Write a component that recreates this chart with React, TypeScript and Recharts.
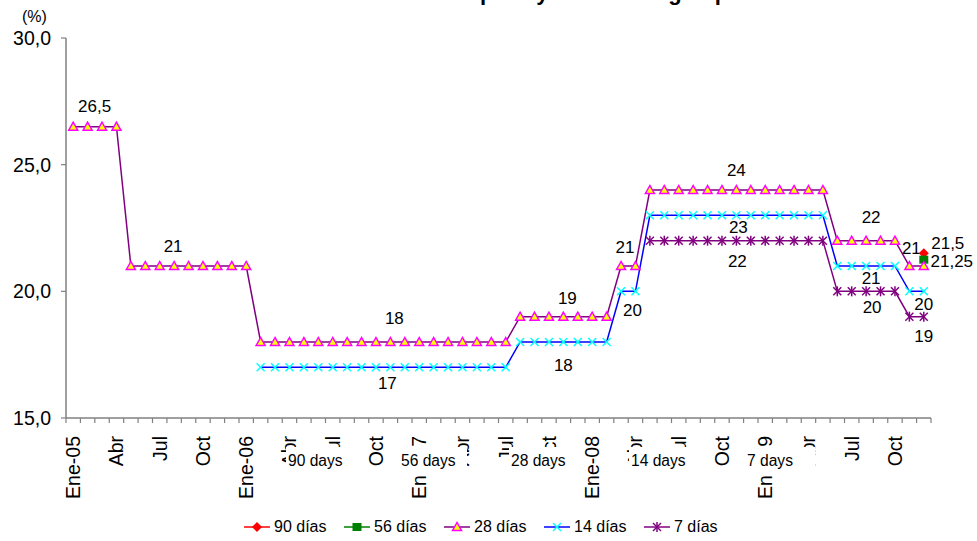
import React from 'react';
import { LineChart, Line, XAxis, YAxis, Legend, ReferenceDot } from 'recharts';

const monthNames = ['Ene', 'Feb', 'Mar', 'Abr', 'May', 'Jun', 'Jul', 'Ago', 'Sep', 'Oct', 'Nov', 'Dic'];
const years = ['05', '06', '07', '08', '09'];
const categories = years.flatMap((y) => monthNames.map((m) => `${m}-${y}`));

const yTicks = [15, 20, 25, 30];

// one value per month, Ene-05 .. Dic-09
const tasa90 = [
  null, null, null, null, null, null, null, null, null, null, null, null,
  null, null, null, null, null, null, null, null, null, null, null, null,
  null, null, null, null, null, null, null, null, null, null, null, null,
  null, null, null, null, null, null, null, null, null, null, null, null,
  null, null, null, null, null, null, null, null, null, null, null, 21.5,
];
const tasa56 = [
  null, null, null, null, null, null, null, null, null, null, null, null,
  null, null, null, null, null, null, null, null, null, null, null, null,
  null, null, null, null, null, null, null, null, null, null, null, null,
  null, null, null, null, null, null, null, null, null, null, null, null,
  null, null, null, null, null, null, null, null, null, null, null, 21.25,
];
const tasa28 = [
  26.5, 26.5, 26.5, 26.5, 21, 21, 21, 21, 21, 21, 21, 21,
  21, 18, 18, 18, 18, 18, 18, 18, 18, 18, 18, 18,
  18, 18, 18, 18, 18, 18, 18, 19, 19, 19, 19, 19,
  19, 19, 21, 21, 24, 24, 24, 24, 24, 24, 24, 24,
  24, 24, 24, 24, 24, 22, 22, 22, 22, 22, 21, 21,
];
const tasa14 = [
  null, null, null, null, null, null, null, null, null, null, null, null,
  null, 17, 17, 17, 17, 17, 17, 17, 17, 17, 17, 17,
  17, 17, 17, 17, 17, 17, 17, 18, 18, 18, 18, 18,
  18, 18, 20, 20, 23, 23, 23, 23, 23, 23, 23, 23,
  23, 23, 23, 23, 23, 21, 21, 21, 21, 21, 20, 20,
];
const tasa7 = [
  null, null, null, null, null, null, null, null, null, null, null, null,
  null, null, null, null, null, null, null, null, null, null, null, null,
  null, null, null, null, null, null, null, null, null, null, null, null,
  null, null, null, null, 22, 22, 22, 22, 22, 22, 22, 22,
  22, 22, 22, 22, 22, 20, 20, 20, 20, 20, 19, 19,
];

// value labels: anchor month, anchor level, text
const labelMonths = ['Feb-05', 'Ago-05', 'Nov-06', 'Nov-06', 'Nov-07', 'Nov-07', 'Mar-08', 'Abr-08', 'Nov-08', 'Nov-08', 'Nov-08', 'Ago-09', 'Ago-09', 'Ago-09', 'Nov-09', 'Dic-09', 'Dic-09', 'Dic-09', 'Dic-09'];
const labelLevels = [26.5, 21, 18, 17, 19, 18, 21, 20, 24, 23, 22, 22, 21, 20, 21, 21.5, 21.25, 20, 19];
const labelTexts = ['26,5', '21', '18', '17', '19', '18', '21', '20', '24', '23', '22', '22', '21', '20', '21', '21,5', '21,25', '20', '19'];
const labelOffsets = [
  [7, -20], [-1, -20], [4, -24], [-3, 16], [4, -18], [0, 23], [4, -19], [-3, 19], [0, -20], [2, 12],
  [1, 21], [5, -23], [5, 12], [6, 16], [2, -18], [24, -10], [28, 2], [0, 13], [0, 20],
];

const dayBoxes = ['90 days', '56 days', '28 days', '14 days', '7 days'];
const dayBoxLeft = [286, 399, 509, 629, 745];
const dayBoxWidth = [62, 68, 57, 61, 70];

const data = categories.map((m, i) => ({
  m,
  t90: tasa90[i],
  t56: tasa56[i],
  t28: tasa28[i],
  t14: tasa14[i],
  t7: tasa7[i],
}));

const FONT = "'Liberation Sans', Arial, sans-serif";
const PLOT_LEFT = 66;
const PLOT_RIGHT = 931;
const BAND = (PLOT_RIGHT - PLOT_LEFT) / categories.length;
const AXIS = '#808080';

const Triangle = ({ cx, cy }: any) => (
  <polygon
    points={`${cx},${cy - 4.5} ${cx - 4.5},${cy + 3.5} ${cx + 4.5},${cy + 3.5}`}
    fill="#FFFF00"
    stroke="#FF00FF"
    strokeWidth={1.5}
  />
);
const Cross = ({ cx, cy, color }: any) => (
  <g stroke={color} strokeWidth={1.5}>
    <line x1={cx - 4} y1={cy - 4} x2={cx + 4} y2={cy + 4} />
    <line x1={cx - 4} y1={cy + 4} x2={cx + 4} y2={cy - 4} />
  </g>
);
const Star = ({ cx, cy, color }: any) => (
  <g stroke={color} strokeWidth={1.5}>
    <line x1={cx - 4} y1={cy - 4} x2={cx + 4} y2={cy + 4} />
    <line x1={cx - 4} y1={cy + 4} x2={cx + 4} y2={cy - 4} />
    <line x1={cx} y1={cy - 5} x2={cx} y2={cy + 5} />
  </g>
);
const Diamond = ({ cx, cy, color }: any) => (
  <polygon points={`${cx},${cy - 5} ${cx + 5},${cy} ${cx},${cy + 5} ${cx - 5},${cy}`} fill={color} />
);
const Square = ({ cx, cy, color }: any) => (
  <rect x={cx - 4.5} y={cy - 4} width={9} height={8} fill={color} />
);

const series = [
  { key: 't90', name: '90 días', line: '#FF0000', mark: '#FF0000', Shape: Diamond },
  { key: 't56', name: '56 días', line: '#008000', mark: '#008000', Shape: Square },
  { key: 't28', name: '28 días', line: '#800080', mark: '#FF00FF', Shape: Triangle },
  { key: 't14', name: '14 días', line: '#0000FF', mark: '#00FFFF', Shape: Cross },
  { key: 't7', name: '7 días', line: '#800080', mark: '#800080', Shape: Star },
];

const makeDot = (Shape: any, color: string) => (props: any) => {
  const { cx, cy, index } = props;
  if (cx == null || cy == null || props.value == null) return <g key={`d-${index}`} />;
  return (
    <g key={`d-${index}`}>
      <Shape cx={cx} cy={cy} color={color} />
    </g>
  );
};

const XTick = (props: any) => {
  const { x, y, payload } = props;
  const i = payload.index;
  const ly = y + 18;
  const m = categories[i];
  const text = i % 12 === 0 ? m : m.slice(0, 3);
  return (
    <g>
      <line x1={x - BAND / 2} x2={x - BAND / 2} y1={y} y2={y + 5} stroke={AXIS} strokeWidth={1.2} />
      {i === categories.length - 1 && (
        <line x1={x + BAND / 2} x2={x + BAND / 2} y1={y} y2={y + 5} stroke={AXIS} strokeWidth={1.2} />
      )}
      {i % 3 === 0 && (
        <text
          x={x}
          y={ly}
          dy="0.36em"
          transform={`rotate(-90 ${x} ${ly})`}
          textAnchor="end"
          fontSize={19.5}
          fill="#000"
        >
          {text}
        </text>
      )}
    </g>
  );
};

const renderLegend = () => (
  <div style={{ display: 'flex', alignItems: 'center', height: 28, paddingLeft: 244, fontFamily: FONT }}>
    {series.map((s) => (
      <div key={s.key} style={{ display: 'flex', alignItems: 'center', width: 100 }}>
        <svg width={26} height={12}>
          <line x1={0} x2={26} y1={6} y2={6} stroke={s.line} strokeWidth={1.5} />
          <s.Shape cx={13} cy={6} color={s.mark} />
        </svg>
        <span style={{ marginLeft: 4, fontSize: 16, color: '#000' }}>{s.name}</span>
      </div>
    ))}
  </div>
);

export default function App() {
  return (
    <div style={{ position: 'absolute', left: 0, top: 0, width: 977, height: 541, background: '#fff', fontFamily: FONT }}>
      <div
        style={{
          position: 'absolute',
          left: 0,
          width: 977,
          top: -21,
          textAlign: 'center',
          fontWeight: 'bold',
          fontSize: 22,
          lineHeight: '27px',
          paddingLeft: 0,
          color: '#000',
        }}
      >
        Evolución de las tasas de pase y subasta según plazo
      </div>
      <div style={{ position: 'absolute', left: 22, top: 8, fontSize: 16, color: '#000' }}>(%)</div>
      <LineChart
        width={977}
        height={541}
        data={data}
        margin={{ top: 38, right: 977 - PLOT_RIGHT, left: PLOT_LEFT - 60, bottom: 0 }}
      >
        <XAxis
          dataKey="m"
          interval={0}
          height={95}
          tickSize={0}
          tickMargin={0}
          tickLine={false}
          axisLine={{ stroke: AXIS, strokeWidth: 1.5 }}
          padding={{ left: BAND / 2, right: BAND / 2 }}
          tick={<XTick />}
        />
        <YAxis
          width={60}
          domain={[15, 30]}
          ticks={yTicks}
          interval={0}
          tickSize={5}
          tickMargin={10}
          tickLine={{ stroke: AXIS, strokeWidth: 1.2 }}
          axisLine={{ stroke: AXIS, strokeWidth: 1.5 }}
          tick={{ fill: '#000', fontSize: 19.5 }}
          tickFormatter={(v: number) => v.toFixed(1).replace('.', ',')}
        />
        <Legend verticalAlign="bottom" height={28} content={renderLegend} wrapperStyle={{ left: 0, width: 977 }} />
        {series.map((s) => (
          <Line
            key={s.key}
            type="linear"
            dataKey={s.key}
            name={s.name}
            stroke={s.line}
            strokeWidth={1.5}
            dot={makeDot(s.Shape, s.mark)}
            activeDot={false}
            isAnimationActive={false}
          />
        ))}
        {labelTexts.map((t, i) => (
          <ReferenceDot
            key={`lbl-${i}`}
            x={labelMonths[i]}
            y={labelLevels[i]}
            r={1}
            shape={(p: any) => (
              <text
                x={p.cx + labelOffsets[i][0]}
                y={p.cy + labelOffsets[i][1]}
                textAnchor="middle"
                dominantBaseline="central"
                fontSize={17}
                fill="#000"
              >
                {t}
              </text>
            )}
          />
        ))}
      </LineChart>
      {dayBoxes.map((d, i) => (
        <div
          key={d}
          style={{
            position: 'absolute',
            left: dayBoxLeft[i],
            top: 447,
            width: dayBoxWidth[i],
            height: 29,
            background: '#fff',
            fontSize: 15.6,
            lineHeight: '27px',
            paddingLeft: 2,
            boxSizing: 'border-box',
            color: '#000',
          }}
        >
          {d}
        </div>
      ))}
    </div>
  );
}
